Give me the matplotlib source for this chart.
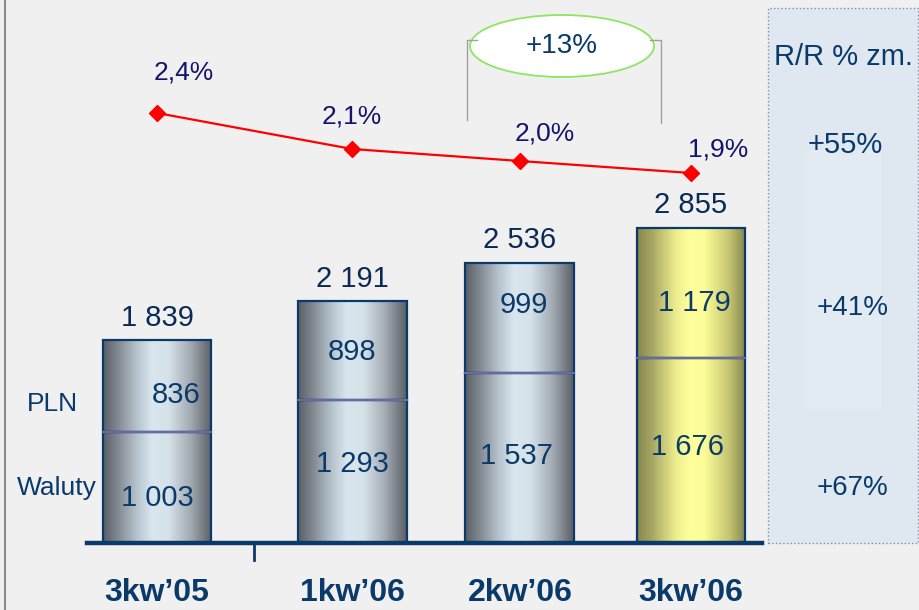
import matplotlib.pyplot as plt
from matplotlib.colors import LinearSegmentedColormap
from matplotlib.patches import Rectangle, Ellipse
from matplotlib.lines import Line2D
import numpy as np

# data
categories = ["3kw\u201905", "1kw\u201906", "2kw\u201906", "3kw\u201906"]
waluty = [1003, 1293, 1537, 1676]
pln = [836, 898, 999, 1179]
totals = [1839, 2191, 2536, 2855]
share = [2.4, 2.1, 2.0, 1.9]
share_labels = ["2,4%", "2,1%", "2,0%", "1,9%"]
yoy_labels = ["+55%", "+41%", "+67%"]
growth_label = "+13%"

# layout
xpos = [0.0, 1.096, 2.039, 3.0]
bar_w = 0.612
pln_frac = [0.4, 0.48, 0.62, 0.42]     # where the label sits inside the PLN segment
wal_frac = [0.41, 0.55, 0.51, 0.52]
pln_dx = [0.107, 0.0, 0.022, 0.017]
wal_dx = [0.0, 0.0, -0.017, -0.017]

plt.rcParams['font.family'] = ['Liberation Sans', 'DejaVu Sans']
navy = '#0a3a6a'
dark = '#14146a'

fig = plt.figure(figsize=(9.2, 6.1), dpi=100, facecolor='#f0f0f0')
base = (610 - 543) / 610
ax = fig.add_axes([0, base, 1, 1 - base])
ax.set_facecolor('none')
ax.axis('off')
ax.set_xlim(-157 / 178, (920 - 157) / 178)
ax.set_ylim(0, 543 / 0.1105)

grey_cmap = LinearSegmentedColormap.from_list('grey', [
    (0.0, '#5a5e64'), (0.12, '#7e848c'), (0.32, '#b9c6d0'), (0.45, '#dae6ee'),
    (0.6, '#d6e2ea'), (0.8, '#a4acb4'), (1.0, '#5a5e64')])
yellow_cmap = LinearSegmentedColormap.from_list('yel', [
    (0.0, '#85854f'), (0.15, '#aaaa66'), (0.35, '#ecec8e'), (0.48, '#ffff9c'),
    (0.62, '#fcfc98'), (0.85, '#c4c472'), (1.0, '#85854f')])
grad = np.linspace(0, 1, 256).reshape(1, -1)

def fmt(v):
    return f"{v:,}".replace(",", " ")

for i, x in enumerate(xpos):
    cmap = yellow_cmap if i == 3 else grey_cmap
    ax.bar([x, x], [waluty[i], pln[i]], bottom=[0, waluty[i]], width=bar_w,
           facecolor='none', edgecolor='#0a3a6a', linewidth=1.6, zorder=3)
    outline = Rectangle((x - bar_w / 2, 0), bar_w, totals[i], transform=ax.transData,
                        facecolor='none', edgecolor='none')
    ax.add_patch(outline)
    im = ax.imshow(grad, cmap=cmap, aspect='auto', zorder=2,
                   extent=[x - bar_w / 2, x + bar_w / 2, 0, totals[i]])
    im.set_clip_path(outline)
    ax.plot([x - bar_w / 2, x + bar_w / 2], [waluty[i], waluty[i]],
            color='#6a6aa0', lw=1.5, zorder=4)
    # values
    ax.text(x, totals[i] + 75, fmt(totals[i]), ha='center', va='bottom',
            fontsize=21, color='#0a2a55')
    ax.text(x + pln_dx[i], waluty[i] + pln[i] * pln_frac[i], fmt(pln[i]),
            ha='center', va='center', fontsize=21, color=navy, zorder=5)
    ax.text(x + wal_dx[i], waluty[i] * wal_frac[i], fmt(waluty[i]),
            ha='center', va='center', fontsize=21, color=navy, zorder=5)

for x, c in zip(xpos, categories):
    fig.text((157 + 178 * x) / 920, 17 / 610, c, ha='center', va='center',
             fontsize=23, fontweight='bold', color=navy)

# share line on twin axis
ax2 = ax.twinx()
ax2.axis('off')
ax2.set_ylim(2.4 - 430 / 120, 2.4 + 113 / 120)
ax2.plot(xpos, share, color='#ff0000', lw=1.6, marker='D', markersize=8,
         markerfacecolor='#ff0000', markeredgecolor='#ff0000', zorder=5)
share_off = [(0.15, 0.34), (0.0, 0.27), (0.14, 0.23), (0.15, 0.2)]
for x, v, lab, (dx, dy) in zip(xpos, share, share_labels, share_off):
    ax2.text(x + dx, v + dy, lab, ha='center', va='center', fontsize=19,
             color=dark)

# axis baseline and tick
fig.add_artist(Line2D([87 / 920, 762 / 920], [base, base], color='#0a3a6a', lw=3.2))
fig.add_artist(Line2D([254 / 920, 254 / 920], [base, (610 - 560) / 610],
                      color='#0a3a6a', lw=2))
# left border
fig.add_artist(Line2D([5 / 920, 5 / 920], [0, 1], color='#8c8c8c', lw=1.5))

# left labels
fig.text(52 / 920, 1 - 404 / 610, "PLN", ha='center', va='center', fontsize=19,
         color=navy)
fig.text(57 / 920, 1 - 488 / 610, "Waluty", ha='center', va='center', fontsize=19,
         color=navy)

# growth bracket
for pts in ([(477, 40), (467, 40), (467, 120)], [(650, 40), (661, 40), (661, 123)]):
    xs = [p[0] / 920 for p in pts]
    ys = [1 - p[1] / 610 for p in pts]
    fig.add_artist(Line2D(xs, ys, color='#a0a0a0', lw=1))
fig.add_artist(Ellipse((562 / 920, 1 - 46 / 610), 184 / 920, 62 / 610,
                       transform=fig.transFigure, facecolor='white',
                       edgecolor='#8ee660', lw=1.3))
fig.text(562 / 920, 1 - 46 / 610, growth_label, ha='center', va='center',
         fontsize=20, color=navy)

# right panel
fig.add_artist(Rectangle((768 / 920, base), 150 / 920, 535 / 610,
                         transform=fig.transFigure, facecolor='#dfe8f0',
                         edgecolor='#8a8aaa', lw=1, linestyle=':'))
fig.add_artist(Rectangle((805 / 920, 1 - 410 / 610), 77 / 920, 260 / 610,
                         transform=fig.transFigure, facecolor='#e3ebf2',
                         edgecolor='none'))
fig.text(843 / 920, 1 - 57 / 610, "R/R % zm.", ha='center', va='center',
         fontsize=21, color=navy)
fig.text(845 / 920, 1 - 145 / 610, yoy_labels[0], ha='center', va='center',
         fontsize=21, color=navy)
fig.text(853 / 920, 1 - 308 / 610, yoy_labels[1], ha='center', va='center',
         fontsize=20, color=navy)
fig.text(853 / 920, 1 - 488 / 610, yoy_labels[2], ha='center', va='center',
         fontsize=20, color=navy)

fig.savefig('out.png', dpi=100, facecolor='#f0f0f0')
